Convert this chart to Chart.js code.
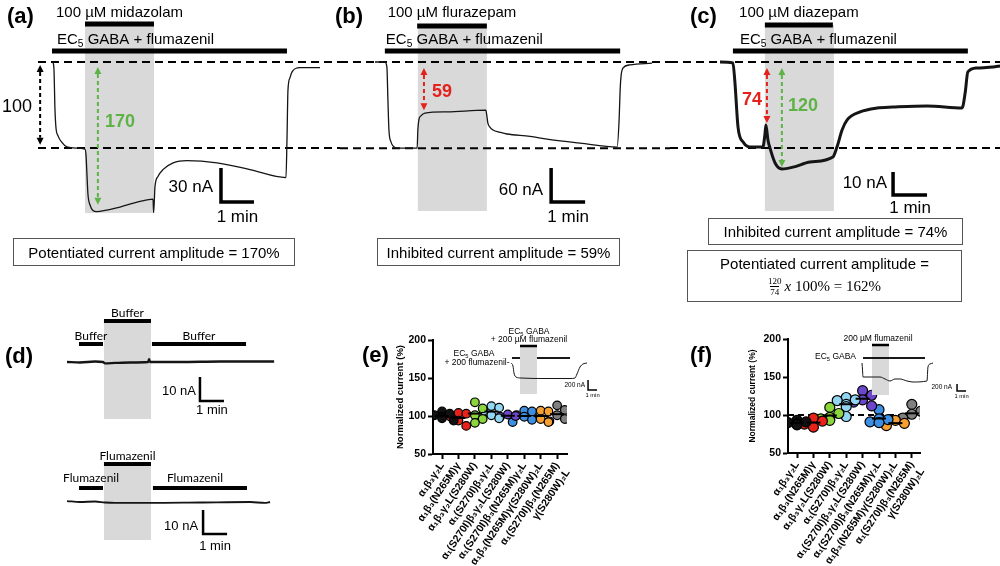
<!DOCTYPE html>
<html>
<head>
<meta charset="utf-8">
<script src="https://cdn.jsdelivr.net/npm/chart.js@4.4.1/dist/chart.umd.min.js"></script>
<style>
body { margin: 0; background: #fff; font-family: "Liberation Sans", Arial, sans-serif; }
#fig { position: relative; width: 1000px; height: 566px; overflow: hidden; }
#fig canvas { position: absolute; }
.lbl { position: absolute; font-weight: bold; font-size: 22px; line-height: 1; }
.box { position: absolute; box-sizing: border-box; border: 1px solid #555; font-size: 15px;
       display: flex; flex-direction: column; align-items: center; justify-content: center; }
.eq { display: flex; align-items: center; font-family: "Liberation Serif", "DejaVu Serif", serif; font-size: 15px; margin-top: 3px; }
.frac { display: inline-flex; flex-direction: column; align-items: center; font-size: 9px; line-height: 10px; margin-right: 3px; }
.frac .den { border-top: 1px solid #000; }
</style>
</head>
<body>
<div id="fig">
  <canvas id="cA" width="1000" height="566" style="left:0;top:0"></canvas>
  <canvas id="cB" width="1000" height="566" style="left:0;top:0"></canvas>
  <canvas id="cC" width="1000" height="566" style="left:0;top:0"></canvas>
  <canvas id="cD1" width="1000" height="566" style="left:0;top:0"></canvas>
  <canvas id="cD2" width="1000" height="566" style="left:0;top:0"></canvas>
  <canvas id="cE" width="200" height="246" style="left:395px;top:320px"></canvas>
  <canvas id="cF" width="200" height="246" style="left:748px;top:320px"></canvas>
  <canvas id="cEi" width="1000" height="566" style="left:0;top:0"></canvas>
  <canvas id="cFi" width="1000" height="566" style="left:0;top:0"></canvas>

  <div class="lbl" style="left:7px;top:5px">(a)</div>
  <div class="lbl" style="left:335px;top:5px">(b)</div>
  <div class="lbl" style="left:690px;top:5px">(c)</div>
  <div class="lbl" style="left:5px;top:345px">(d)</div>
  <div class="lbl" style="left:362px;top:344px">(e)</div>
  <div class="lbl" style="left:690px;top:344px">(f)</div>

  <div class="box" style="left:13px;top:238px;width:282px;height:28px">Potentiated current amplitude = 170%</div>
  <div class="box" style="left:377px;top:238px;width:243px;height:28px">Inhibited current amplitude = 59%</div>
  <div class="box" style="left:708px;top:218px;width:255px;height:27px">Inhibited current amplitude = 74%</div>
  <div class="box" style="left:687px;top:250px;width:275px;height:52px">
    <div style="line-height:18px">Potentiated current amplitude =</div>
    <div class="eq"><span class="frac"><span>120</span><span class="den">74</span></span><span><i>x</i> 100% = 162%</span></div>
  </div>
</div>

<script>
// ---- traces: time (min) and current (nA)
const aTime = [0, 0.03, 0.06, 0.09, 0.15, 0.27, 0.42, 0.70, 0.97, 1.0, 1.03, 1.06, 1.12, 1.21, 1.33, 1.58, 2.03, 2.64, 3.03, 3.05, 3.09, 3.18, 3.33, 3.64, 4.06, 4.97, 5.97, 7.06, 7.09, 7.12, 7.18, 7.24, 7.48, 8.09];
const aCurrent = [0, -7, -42, -58, -65, -71, -75, -76, -77, -82, -100, -117, -126, -131, -132, -131, -128, -123, -121, -133, -110, -101, -95, -89, -87, -89, -95, -102, -69, -25, -14, -9, -5, -5];

const bTime = [0, 0.29, 0.35, 0.38, 0.41, 0.47, 0.53, 0.65, 1.24, 1.26, 1.29, 1.35, 1.47, 2.12, 3.26, 3.29, 3.32, 3.38, 3.47, 3.68, 3.88, 4.56, 5.06, 6.03, 7.12, 7.18, 7.21, 7.24, 7.29, 7.5, 8.15];
const bCurrent = [0, 0, -9, -67, -120, -141, -148, -152, -152, -120, -102, -95, -90, -88, -85, -95, -108, -115, -120, -124, -127, -131, -136, -143, -150, -102, -49, -23, -11, -5, -2];

const cTime = [0, 0.38, 0.44, 0.53, 0.68, 0.94, 1.26, 1.32, 1.35, 1.41, 1.47, 1.62, 1.82, 2.15, 2.65, 3.32, 3.44, 3.59, 3.74, 4.12, 4.62, 5.09, 6.09, 7.12, 7.21, 7.29, 7.56, 8.03, 8.24];
const cCurrent = [0, -0.4, -9.1, -28.3, -34.8, -37, -37, -31.7, -27.4, -33.9, -37.4, -43.9, -46.5, -45.7, -43.5, -41.3, -37, -29.6, -25.2, -21.7, -20, -19.6, -19.1, -20, -13.5, -4.3, -2.6, -2.2, -1.7];

const d1Time = [0, 0.54, 1.17, 1.5, 1.58, 2.0, 2.63, 3.38, 3.42, 3.46, 4.71, 6.38, 8.63];
const d1Current = [0, -0.2, 0.2, 0, -0.6, -0.4, -0.2, 0, 1.2, 0, 0, 0.2, 0.2];
const d2Time = [0, 0.54, 1.17, 1.58, 2.0, 3.46, 5.54, 7.63, 8.25, 8.46];
const d2Current = [0.4, 0, 0.2, -0.2, -0.4, -0.4, -0.2, 0, -0.4, 0];

const eInsetTime = [0, 0.22, 0.33, 0.56, 1.11, 3.78, 6.56, 7.11, 7.33, 7.67, 8.0, 8.44];
const eInsetCurrent = [0, -60, -200, -280, -300, -310, -310, -300, -220, -80, -20, 0];
const fInsetTime = [0, 0.06, 0.11, 1.11, 2.0, 2.56, 3.11, 3.67, 4.22, 5.0, 5.67, 7.22, 7.33, 7.56, 7.89];
const fInsetCurrent = [0, -200, -400, -400, -400, -457, -514, -457, -457, -514, -543, -514, -114, -29, 0];

// application periods (min) and EC5 levels (nA)
const aMidazolam = [0.97, 3.06], aGaba = [-0.03, 7.09], aEC5 = -76;
const bFlurazepam = [1.24, 3.29], bGaba = [0.29, 7.21], bEC5 = -152;
const cDiazepam = [1.32, 3.32], cGaba = [0.38, 7.29], cEC5 = -37.4;
const d1Buffer = [[0.5, 1.5], [1.54, 3.5], [3.54, 7.46]];
const d2Flumazenil = [[0.5, 1.5], [1.54, 3.5], [3.58, 7.5]];
const eFlumazenil = [1.0, 2.89], eGaba = [0.11, 6.56];
const fFlumazenil = [1.11, 3.0], fGaba = [0.11, 7.0];

// ---- normalized current (%) per construct
const groups = ['α₁β₃γ₂L', 'α₁β₃(N265M)γ', 'α₁β₃γ₂L(S280W)', 'α₁(S270I)β₃γ₂L', 'α₁(S270I)β₃γ₂L(S280W)',
  'α₁(S270I)β₃(N265M)γ₂L', 'α₁β₃(N265M)γ(S280W)₂L', ['α₁(S270I)β₃(N265M)', 'γ(S280W)₂L']];
const groupColors = ['#111111', '#e8221b', '#8ad63c', '#93d6f2', '#6c47cc', '#3d8fe3', '#f6a033', '#808080'];
const eValues = [
  [106, 103, 101, 99, 97, 94],
  [104, 103, 99, 94, 87],
  [118, 110, 101, 96, 91],
  [113, 111, 107, 101, 97],
  [102, 100, 99],
  [107, 106, 101, 99, 95, 92],
  [107, 106, 99, 96, 92],
  [114, 108, 101, 96, 93]
];
const fValues = [
  [93, 91, 90, 89, 88, 87],
  [96, 92, 88, 84],
  [110, 102, 97, 95, 93],
  [123, 120, 119, 114, 111, 98],
  [132, 126, 120, 117, 112],
  [107, 95, 94, 91, 90],
  [93, 89, 86],
  [114, 105, 101, 96, 95]
];

const FONT = '"Liberation Sans", Arial, sans-serif';
const GREEN = '#5eb246', RED = '#e4211c';

function rich(ctx, parts, x, y, size, align, o) {
  o = o || {};
  const fam = o.family || FONT, wt = o.bold ? 'bold ' : '';
  const fontFor = i => wt + (i % 2 ? size * 0.68 : size) + 'px ' + fam;
  let w = 0;
  parts.forEach((p, i) => { ctx.font = fontFor(i); w += ctx.measureText(p).width; });
  let cx = align === 'center' ? x - w / 2 : align === 'right' ? x - w : x;
  ctx.fillStyle = o.color || '#000';
  ctx.textAlign = 'left';
  ctx.textBaseline = 'middle';
  parts.forEach((p, i) => {
    ctx.font = fontFor(i);
    ctx.fillText(p, cx, y + (i % 2 ? size * 0.28 : 0));
    cx += ctx.measureText(p).width;
  });
}

function arrow(ctx, x, yTop, yBot, color) {
  const h = 7, hw = 3.5;
  ctx.save();
  ctx.strokeStyle = color; ctx.fillStyle = color; ctx.lineWidth = 2;
  ctx.setLineDash([4, 3]);
  ctx.beginPath(); ctx.moveTo(x, yTop + h); ctx.lineTo(x, yBot - h); ctx.stroke();
  ctx.setLineDash([]);
  ctx.beginPath(); ctx.moveTo(x, yTop); ctx.lineTo(x - hw, yTop + h); ctx.lineTo(x + hw, yTop + h); ctx.fill();
  ctx.beginPath(); ctx.moveTo(x, yBot); ctx.lineTo(x - hw, yBot - h); ctx.lineTo(x + hw, yBot - h); ctx.fill();
  ctx.restore();
}

// draws application bars, shading, dashed levels, arrows and scale bar in the trace's own units
function panelPlugin(p) {
  return {
    id: 'panel',
    beforeDatasetsDraw(chart) {
      const ctx = chart.ctx;
      const X = v => chart.scales.x.getPixelForValue(v), Y = v => chart.scales.y.getPixelForValue(v);
      const bars = p.bars || [];
      const drawBar = b => { ctx.fillStyle = '#000'; ctx.fillRect(X(b.t[0]), b.y - b.w / 2, X(b.t[1]) - X(b.t[0]), b.w); };
      ctx.save();
      bars.filter(b => b.under).forEach(drawBar);
      (p.shade || []).forEach(s => {
        ctx.fillStyle = '#d9d9d9';
        ctx.fillRect(X(s.t[0]), s.top, X(s.t[1]) - X(s.t[0]), s.bottom - s.top);
      });
      bars.filter(b => !b.under).forEach(drawBar);
      bars.forEach(b => {
        if (!b.label) return;
        const lx = b.align === 'left' ? X(b.t[0]) + (b.dx || 0) : (X(b.t[0]) + X(b.t[1])) / 2 + (b.dx || 0);
        rich(ctx, b.label, lx, b.ly, b.size, b.align || 'center', { family: b.family });
      });
      (p.dashes || []).forEach(d => {
        ctx.strokeStyle = '#000'; ctx.lineWidth = 2; ctx.setLineDash([8, 5]);
        ctx.beginPath(); ctx.moveTo(d.x0, Y(d.v)); ctx.lineTo(d.x1, Y(d.v)); ctx.stroke();
      });
      ctx.restore();
    },
    afterDatasetsDraw(chart) {
      const ctx = chart.ctx;
      const X = v => chart.scales.x.getPixelForValue(v), Y = v => chart.scales.y.getPixelForValue(v);
      (p.arrows || []).forEach(a => arrow(ctx, X(a.t), Y(a.v0), Y(a.v1), a.color));
      (p.texts || []).forEach(t => rich(ctx, t.s, t.x, t.y, t.size, t.align || 'left', t));
      const s = p.scale;
      if (s) {
        const x0 = X(s.t), x1 = X(s.t + 1), y0 = Y(s.v), y1 = Y(s.v + s.dv);
        ctx.save();
        ctx.strokeStyle = '#000'; ctx.lineWidth = s.lw; ctx.lineJoin = 'miter';
        ctx.beginPath(); ctx.moveTo(x0, y1); ctx.lineTo(x0, y0); ctx.lineTo(x1, y0); ctx.stroke();
        ctx.restore();
        rich(ctx, [s.dv + ' nA'], x0 - s.gapV, (y0 + y1) / 2 + (s.dyV || 0), s.sizeV, 'right');
        rich(ctx, ['1 min'], (x0 + x1) / 2, y0 + s.gapH, s.sizeH, 'center');
      }
    }
  };
}

function traceChart(id, time, current, lw, g, p) {
  const W = 1000, H = 566;
  return new Chart(document.getElementById(id), {
    type: 'line',
    data: {
      datasets: [{
        data: time.map((t, i) => ({ x: t, y: current[i] })),
        borderColor: '#151515', borderWidth: lw, pointRadius: 0,
        cubicInterpolationMode: 'monotone', clip: false
      }]
    },
    options: {
      responsive: false, animation: false, events: [],
      layout: { padding: 0 },
      plugins: { legend: { display: false }, tooltip: { enabled: false } },
      scales: {
        x: { type: 'linear', display: false, min: -g.ox / g.ppm, max: (W - g.ox) / g.ppm },
        y: { type: 'linear', display: false, min: -(H - g.oy) / g.ppn, max: g.oy / g.ppn }
      }
    },
    plugins: [panelPlugin(p)]
  });
}

// (a)
traceChart('cA', aTime, aCurrent, 1.3, { ox: 53, oy: 62, ppm: 33, ppn: 1.133 }, {
  shade: [{ t: aMidazolam, top: 22, bottom: 213 }],
  bars: [
    { t: aMidazolam, y: 24, w: 5, label: ['100 µM midazolam'], ly: 13, size: 15 },
    { t: aGaba, y: 51, w: 5, label: ['EC', '5', ' GABA + flumazenil'], ly: 40, size: 15, align: 'left', dx: 5 }
  ],
  dashes: [{ v: 0, x0: 38, x1: 340 }, { v: aEC5, x0: 38, x1: 340 }],
  arrows: [{ t: -0.39, v0: -2.6, v1: -73, color: '#000' }, { t: 1.36, v0: -4.4, v1: -126, color: GREEN }],
  texts: [
    { s: ['100'], x: 32, y: 107, size: 18, align: 'right' },
    { s: ['170'], x: 105, y: 122, size: 18, bold: true, color: GREEN }
  ],
  scale: { t: 5.09, v: -123.5, dv: 30, lw: 3.5, sizeV: 17, sizeH: 17, gapV: 8, dyV: 2, gapH: 15 }
});

// (b)
traceChart('cB', bTime, bCurrent, 1.3, { ox: 375, oy: 62, ppm: 34, ppn: 0.567 }, {
  shade: [{ t: [1.26, 3.29], top: 26, bottom: 211 }],
  bars: [
    { t: bFlurazepam, y: 26, w: 5, label: ['100 µM flurazepam'], ly: 13, size: 15 },
    { t: bGaba, y: 51, w: 5, label: ['EC', '5', ' GABA + flumazenil'], ly: 40, size: 15, align: 'left', dx: 1 }
  ],
  dashes: [{ v: 0, x0: 340, x1: 670 }, { v: bEC5, x0: 340, x1: 670 }],
  arrows: [{ t: 1.44, v0: -10.6, v1: -85, color: RED }],
  texts: [{ s: ['59'], x: 432, y: 92, size: 18, bold: true, color: RED }],
  scale: { t: 5.18, v: -247, dv: 60, lw: 3.5, sizeV: 17, sizeH: 17, gapV: 8, dyV: 5, gapH: 15 }
});

// (c)
traceChart('cC', cTime, cCurrent, 3, { ox: 720, oy: 62, ppm: 34, ppn: 2.3 }, {
  shade: [{ t: [1.32, 3.35], top: 25, bottom: 211 }],
  bars: [
    { t: cDiazepam, y: 25, w: 5, label: ['100 µM diazepam'], ly: 13, size: 15 },
    { t: cGaba, y: 51, w: 5, label: ['EC', '5', ' GABA + flumazenil'], ly: 40, size: 15, align: 'left', dx: 7 }
  ],
  dashes: [{ v: 0, x0: 670, x1: 1000 }, { v: cEC5, x0: 670, x1: 1000 }],
  arrows: [{ t: 1.38, v0: -2.6, v1: -26.5, color: RED }, { t: 1.82, v0: -2.6, v1: -45.7, color: GREEN }],
  texts: [
    { s: ['74'], x: 762, y: 100, size: 18, bold: true, color: RED, align: 'right' },
    { s: ['120'], x: 788, y: 106, size: 18, bold: true, color: GREEN }
  ],
  scale: { t: 5.09, v: -57.8, dv: 10, lw: 3.5, sizeV: 17, sizeH: 17, gapV: 6, dyV: 0, gapH: 13 }
});

// (d) buffer and flumazenil controls
traceChart('cD1', d1Time, d1Current, 2.3, { ox: 67, oy: 362, ppm: 24, ppn: 2.4 }, {
  shade: [{ t: d1Buffer[1], top: 321, bottom: 419 }],
  bars: [
    { t: d1Buffer[0], y: 344, w: 4, label: ['Buffer'], ly: 336, size: 12, family: 'Lato, sans-serif' },
    { t: d1Buffer[1], y: 321, w: 4, label: ['Buffer'], ly: 313, size: 12, family: 'Lato, sans-serif' },
    { t: d1Buffer[2], y: 344, w: 4, label: ['Buffer'], ly: 336, size: 12, family: 'Lato, sans-serif' }
  ],
  scale: { t: 5.54, v: -16.25, dv: 10, lw: 2.5, sizeV: 13, sizeH: 13, gapV: 4, dyV: 2, gapH: 9 }
});
traceChart('cD2', d2Time, d2Current, 1.8, { ox: 67, oy: 502, ppm: 24, ppn: 2.4 }, {
  shade: [{ t: d2Flumazenil[1], top: 464, bottom: 540 }],
  bars: [
    { t: d2Flumazenil[0], y: 488, w: 4, label: ['Flumazenil'], ly: 478, size: 12, family: 'Lato, sans-serif' },
    { t: d2Flumazenil[1], y: 464, w: 4, label: ['Flumazenil'], ly: 456, size: 12, family: 'Lato, sans-serif' },
    { t: d2Flumazenil[2], y: 488, w: 4, label: ['Flumazenil'], ly: 478, size: 12, family: 'Lato, sans-serif', dx: -5 }
  ],
  scale: { t: 5.67, v: -13.3, dv: 10, lw: 2.5, sizeV: 13, sizeH: 13, gapV: 5, dyV: 5, gapH: 13 }
});

// inset recordings in (e) and (f)
traceChart('cEi', eInsetTime, eInsetCurrent, 1, { ox: 511, oy: 363, ppm: 9, ppn: 0.05 }, {
  bars: [
    { t: eGaba, y: 358, w: 1.8, under: true },
    { t: eFlumazenil, y: 346, w: 2.5 }
  ],
  shade: [{ t: eFlumazenil, top: 346, bottom: 394 }],
  texts: [
    { s: ['EC', '5', ' GABA'], x: 529, y: 332, size: 8.5, align: 'center' },
    { s: ['+ 200 µM flumazenil'], x: 529, y: 340, size: 8.5, align: 'center' },
    { s: ['EC', '5', ' GABA'], x: 474, y: 354, size: 8.5, align: 'center' },
    { s: ['+ 200 flumazenil-'], x: 477, y: 363, size: 8.5, align: 'center' }
  ],
  scale: { t: 8.56, v: -540, dv: 200, lw: 1.5, sizeV: 6.5, sizeH: 5.8, gapV: 3, dyV: 0, gapH: 5 }
});
traceChart('cFi', fInsetTime, fInsetCurrent, 1, { ox: 862, oy: 363, ppm: 9, ppn: 0.035 }, {
  shade: [{ t: fFlumazenil, top: 345, bottom: 395 }],
  bars: [
    { t: fGaba, y: 358, w: 1.8 },
    { t: fFlumazenil, y: 345, w: 2.5 }
  ],
  texts: [
    { s: ['200 µM flumazenil'], x: 878, y: 339, size: 8.5, align: 'center' },
    { s: ['EC', '5', ' GABA'], x: 856, y: 357, size: 8.5, align: 'right' }
  ],
  scale: { t: 10.56, v: -800, dv: 200, lw: 1.5, sizeV: 6.5, sizeH: 5.8, gapV: 5, dyV: 0, gapH: 5 }
});

// simple beeswarm so dots of a group don't sit on each other
function swarm(vals, i, g) {
  const placed = [];
  return vals.slice().sort((a, b) => b - a).map(v => {
    let off = 0;
    for (const k of [0, 1, -1, 2, -2, 3, -3]) {
      const o = k * g.r * 0.9;
      if (placed.every(q => (o - q.o) ** 2 + ((v - q.v) * g.pyPerUnit) ** 2 >= (g.r * 1.7) ** 2)) { off = o; break; }
    }
    placed.push({ o: off, v: v });
    return { x: i + off / g.pxPerCat, y: v };
  });
}

const refLine = {
  id: 'ref',
  beforeDatasetsDraw(c) {
    const ctx = c.ctx, y = c.scales.y.getPixelForValue(100);
    ctx.save();
    ctx.strokeStyle = '#000'; ctx.lineWidth = 1.8; ctx.setLineDash([6, 4]);
    ctx.beginPath(); ctx.moveTo(c.chartArea.left, y); ctx.lineTo(c.chartArea.right, y); ctx.stroke();
    ctx.restore();
  }
};

function dotChart(id, vals, g) {
  const means = vals.map(v => v.reduce((a, b) => a + b, 0) / v.length);
  const datasets = [{
    data: means.map((m, i) => ({ x: i, y: m })), pointStyle: 'line', pointRadius: 7,
    borderColor: '#000', borderWidth: 2
  }];
  vals.forEach((v, i) => datasets.push({
    data: swarm(v, i, g), backgroundColor: groupColors[i], borderColor: '#000',
    borderWidth: 1.2, pointRadius: g.r
  }));
  const axisGrid = { drawOnChartArea: false, drawTicks: true, tickLength: 5, tickWidth: 2, tickColor: '#000' };
  return new Chart(document.getElementById(id), {
    type: 'scatter',
    data: { datasets },
    options: {
      responsive: false, animation: false, events: [],
      layout: { padding: { top: g.top, right: g.right, left: 0, bottom: 0 } },
      plugins: { legend: { display: false }, tooltip: { enabled: false } },
      scales: {
        x: {
          type: 'linear', min: g.xmin, max: g.xmax,
          afterBuildTicks: s => { s.ticks = groups.map((_, i) => ({ value: i })); },
          afterFit: s => { s.height = g.xh; s.paddingLeft = 0; s.paddingRight = 0; },
          ticks: {
            callback: v => groups[v], autoSkip: false, maxRotation: 56, minRotation: 56, padding: 1,
            color: '#000', font: { family: FONT, weight: 'bold', size: 10.5 }
          },
          grid: axisGrid,
          border: { display: true, color: '#000', width: 2 }
        },
        y: {
          type: 'linear', min: 50, max: 200,
          afterFit: s => { s.width = g.yw; s.paddingTop = 0; s.paddingBottom = 0; },
          ticks: { stepSize: 50, padding: 2, color: '#000', font: { family: FONT, weight: 'bold', size: 10.5 } },
          title: {
            display: true, text: 'Normalized current (%)', color: '#000',
            font: { family: FONT, weight: 'bold', size: g.titleSize }, padding: { top: 0, bottom: 2 }
          },
          grid: axisGrid,
          border: { display: true, color: '#000', width: 2 }
        }
      }
    },
    plugins: [refLine]
  });
}

dotChart('cE', eValues, { r: 4.3, pxPerCat: 16.44, pyPerUnit: 0.76, xmin: -0.55, xmax: 7.6, xh: 112, yw: 38, top: 20, right: 28, titleSize: 9.5 });
dotChart('cF', fValues, { r: 5, pxPerCat: 16.4, pyPerUnit: 0.76, xmin: -0.55, xmax: 7.5, xh: 113, yw: 40, top: 19, right: 28, titleSize: 8.5 });
</script>
</body>
</html>
